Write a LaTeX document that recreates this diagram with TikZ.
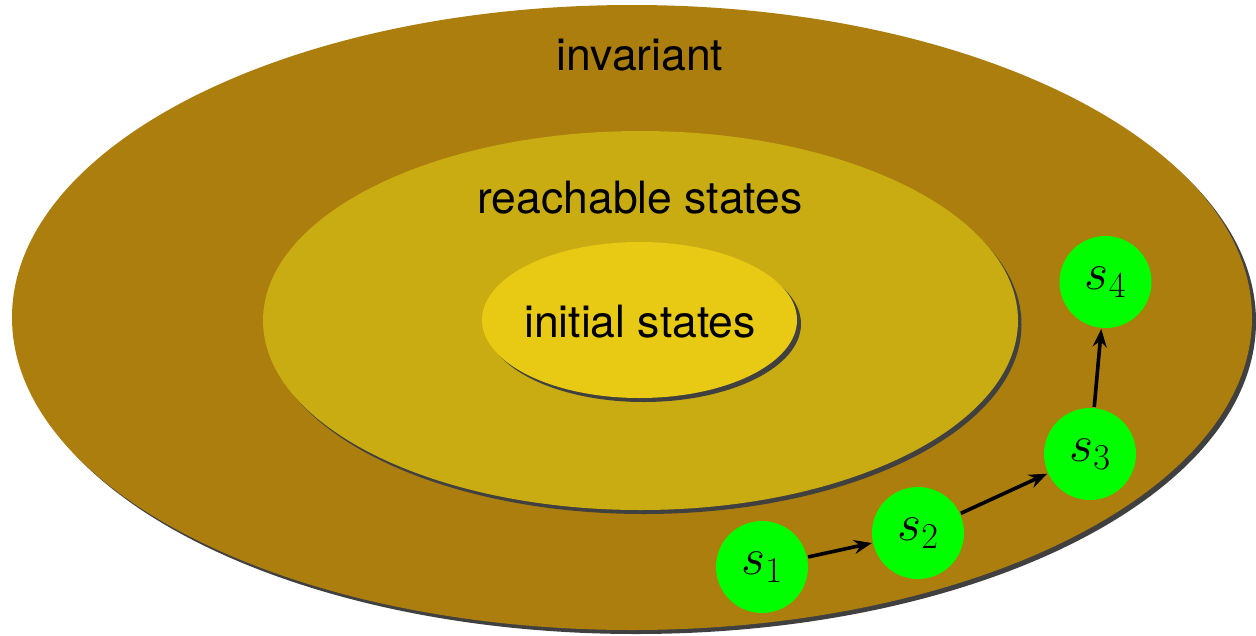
\RequirePackage{fix-cm}
\documentclass[tikz,border=0pt]{standalone}
\usepackage{fontspec}
\setsansfont{TeX Gyre Heros}
\usetikzlibrary{arrows.meta}
\definecolor{outerc}{RGB}{171,126,13}
\definecolor{midc}{RGB}{200,172,17}
\definecolor{innerc}{RGB}{232,201,19}
\definecolor{shadowc}{RGB}{64,64,64}
\definecolor{statec}{RGB}{0,255,0}
\begin{document}
\begin{tikzpicture}[x=1pt,y=-1pt,
  lbl/.style={font=\sffamily\fontsize{44.5}{53}\selectfont, text=black, inner sep=0pt},
  state/.style={circle, fill=statec, minimum size=92pt, inner sep=0pt, font=\fontsize{52}{60}\selectfont},
  trans/.style={-{Stealth[length=18pt,width=14pt,inset=6pt]}, line width=3.6pt, black, shorten >=1pt, shorten <=1pt}]
\useasboundingbox (0,0) rectangle (1256,635);
% outer
\fill[shadowc] (636,321.5) ellipse [x radius=620, y radius=312.5];
\fill[outerc] (632,317.5) ellipse [x radius=620, y radius=312.5];
% middle
\fill[shadowc] (644,324.5) ellipse [x radius=377.5, y radius=189.5];
\fill[midc] (640.5,320.5) ellipse [x radius=377.5, y radius=189.5];
% inner
\fill[shadowc] (643.5,324) ellipse [x radius=157.5, y radius=78];
\fill[innerc] (639.5,320) ellipse [x radius=157.5, y radius=78];
% labels
\node[lbl] (inv) at (640,55) {invariant};
\node[lbl] (reach) at (640,198) {reachable states};
\node[lbl] (init) at (640,322) {initial states};
% states
\node[state] (s1) at (762,567) {$s_1$};
\node[state] (s2) at (918,533) {$s_2$};
\node[state] (s3) at (1090,454) {$s_3$};
\node[state] (s4) at (1105.5,282) {$s_4$};
\draw[trans] (s1) -- (s2);
\draw[trans] (s2) -- (s3);
\draw[trans] (s3) -- (s4);
\end{tikzpicture}
\end{document}
